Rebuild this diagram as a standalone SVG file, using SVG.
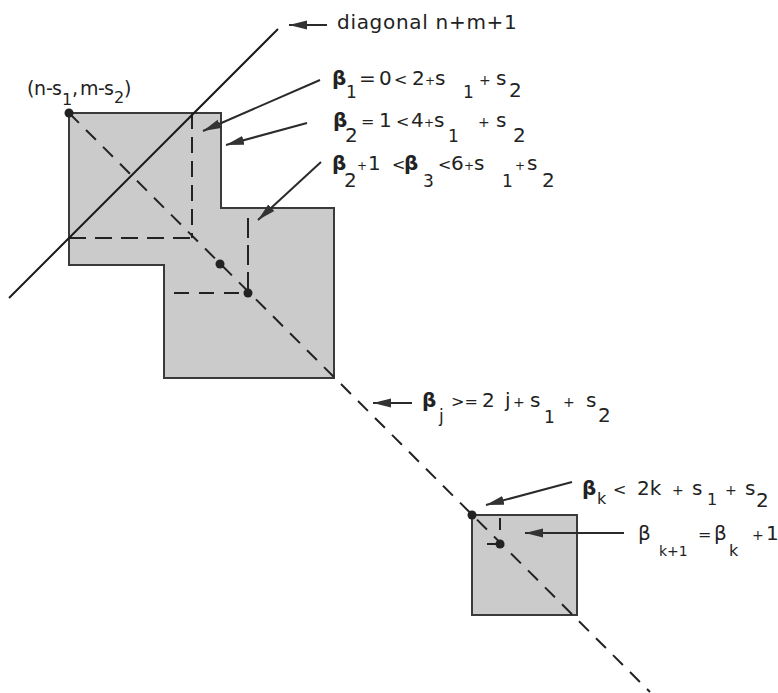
<svg xmlns="http://www.w3.org/2000/svg" width="778" height="693" viewBox="0 0 778 693">
<defs>
<style>
.t{font-family:"DejaVu Sans","Liberation Sans",sans-serif;font-size:20px;fill:#222}
.c{font-size:19px}
.b{font-weight:bold}
.s12{font-size:12px}
.s14{font-size:14px}
.s16{font-size:16px}
.s17{font-size:17px}
.shape{fill:#cbcbcb;stroke:#3a3a3a;stroke-width:2}
.dash{fill:none;stroke:#222;stroke-width:2}
.solid{fill:none;stroke:#1a1a1a;stroke-width:2}
.arrow{fill:none;stroke:#2a2a2a;stroke-width:2;marker-end:url(#ah)}
.dot{fill:#222}
</style>
<marker id="ah" markerUnits="userSpaceOnUse" markerWidth="20" markerHeight="10" refX="18" refY="5" orient="auto">
<path d="M0,0.5 L18,5 L0,9.5 Z" fill="#333"/>
</marker>
</defs>
<rect width="778" height="693" fill="#fff"/>

<g id="region-main">
<polygon class="shape" points="69,113 221,113 221,208 334,208 334,378 164,378 164,265 69,265"/>
</g>
<g id="region-small">
<rect class="shape" x="472" y="515" width="105" height="100"/>
</g>

<g id="guides">
<line class="dash" x1="69" y1="113" x2="650" y2="692" stroke-dasharray="14 10"/>
<line class="dash" x1="192" y1="113" x2="192" y2="238" stroke-dasharray="16 8"/>
<line class="dash" x1="69" y1="238" x2="192" y2="238" stroke-dasharray="17 9"/>
<line class="dash" x1="248" y1="218" x2="248" y2="293" stroke-dasharray="20 7"/>
<line class="dash" x1="174" y1="293" x2="248" y2="293" stroke-dasharray="15 10"/>
<line class="dash" x1="500" y1="518" x2="500" y2="530"/>
<line class="dash" x1="487" y1="544" x2="500" y2="544"/>
<line class="solid" x1="9" y1="298" x2="278" y2="29"/>
</g>

<g id="points">
<circle class="dot" cx="69" cy="113" r="4.5"/>
<circle class="dot" cx="220" cy="264" r="4.5"/>
<circle class="dot" cx="248" cy="293" r="4.5"/>
<circle class="dot" cx="472" cy="515" r="4.5"/>
<circle class="dot" cx="500" cy="544" r="4.5"/>
</g>

<g id="connectors">
<line class="arrow" x1="327" y1="25" x2="289" y2="25"/>
<line class="arrow" x1="320" y1="80" x2="203" y2="131"/>
<line class="arrow" x1="307" y1="123" x2="226" y2="145"/>
<line class="arrow" x1="321" y1="162" x2="258" y2="220"/>
<line class="arrow" x1="412" y1="403" x2="373" y2="403"/>
<line class="arrow" x1="572" y1="482" x2="486" y2="505"/>
<line class="arrow" x1="624" y1="533" x2="525" y2="533"/>
</g>

<g id="label-corner">
<text class="t c"><tspan x="27" y="95">(</tspan><tspan x="34" y="95">n</tspan><tspan x="46" y="95">-</tspan><tspan x="52" y="95">s</tspan><tspan x="62" y="105" class="s16">1</tspan><tspan x="72" y="95">,</tspan><tspan x="80" y="95">m</tspan><tspan x="98" y="95">-</tspan><tspan x="104" y="95">s</tspan><tspan x="114" y="103" class="s16">2</tspan><tspan x="124" y="95">)</tspan></text>
</g>

<g id="label-diagonal">
<text class="t" x="337" y="29" letter-spacing="0.7">diagonal n+m+1</text>
</g>

<g id="label-beta1">
<text class="t"><tspan class="b" x="332" y="85">β</tspan><tspan x="346" y="98" class="s17">1</tspan><tspan x="359" y="85">=</tspan><tspan x="379" y="85">0</tspan><tspan x="394" y="85" class="s16">&lt;</tspan><tspan x="412" y="85">2</tspan><tspan x="425" y="85" class="s12">+</tspan><tspan x="435" y="85">s</tspan><tspan x="463" y="98" class="s17">1</tspan><tspan x="479" y="85" class="s14">+</tspan><tspan x="496" y="85">s</tspan><tspan x="509" y="97">2</tspan></text>
</g>

<g id="label-beta2">
<text class="t"><tspan class="b" x="333" y="127">β</tspan><tspan x="345" y="142">2</tspan><tspan x="361" y="127" class="s16">=</tspan><tspan x="379" y="127">1</tspan><tspan x="396" y="127" class="s16">&lt;</tspan><tspan x="411" y="127">4</tspan><tspan x="424" y="127" class="s12">+</tspan><tspan x="434" y="127">s</tspan><tspan x="448" y="142" class="s17">1</tspan><tspan x="478" y="127" class="s14">+</tspan><tspan x="496" y="127">s</tspan><tspan x="513" y="142">2</tspan></text>
</g>

<g id="label-beta3">
<text class="t"><tspan class="b" x="332" y="170">β</tspan><tspan x="344" y="187">2</tspan><tspan x="357" y="170" class="s12">+</tspan><tspan x="368" y="170">1</tspan><tspan x="392" y="170" class="s16">&lt;</tspan><tspan class="b" x="404" y="170">β</tspan><tspan x="423" y="187" class="s17">3</tspan><tspan x="438" y="170" class="s16">&lt;</tspan><tspan x="451" y="170">6</tspan><tspan x="464" y="170" class="s12">+</tspan><tspan x="474" y="170">s</tspan><tspan x="502" y="187" class="s17">1</tspan><tspan x="515" y="170" class="s12">+</tspan><tspan x="527" y="170">s</tspan><tspan x="542" y="187">2</tspan></text>
</g>

<g id="label-betaj">
<text class="t"><tspan class="b" x="422" y="407">β</tspan><tspan x="439" y="422" class="s17">j</tspan><tspan x="451" y="407" class="s16">&gt;=</tspan><tspan x="482" y="407">2</tspan><tspan x="505" y="407">j</tspan><tspan x="513" y="407" class="s14">+</tspan><tspan x="530" y="407">s</tspan><tspan x="544" y="423" class="s17">1</tspan><tspan x="563" y="407" class="s14">+</tspan><tspan x="586" y="407">s</tspan><tspan x="598" y="422">2</tspan></text>
</g>

<g id="label-betak">
<text class="t"><tspan class="b" x="582" y="495">β</tspan><tspan x="597" y="504" class="s16">k</tspan><tspan x="613" y="495" class="s16">&lt;</tspan><tspan x="637" y="495">2k</tspan><tspan x="672" y="495" class="s14">+</tspan><tspan x="692" y="495">s</tspan><tspan x="707" y="505" class="s16">1</tspan><tspan x="725" y="495" class="s14">+</tspan><tspan x="745" y="495">s</tspan><tspan x="756" y="507">2</tspan></text>
</g>

<g id="label-betak1">
<text class="t"><tspan x="638" y="540">β</tspan><tspan x="659" y="556" class="s14">k+1</tspan><tspan x="698" y="540" class="s16">=</tspan><tspan x="714" y="540">β</tspan><tspan x="729" y="556" class="s16">k</tspan><tspan x="752" y="540" class="s14">+</tspan><tspan x="766" y="540">1</tspan></text>
</g>
</svg>
